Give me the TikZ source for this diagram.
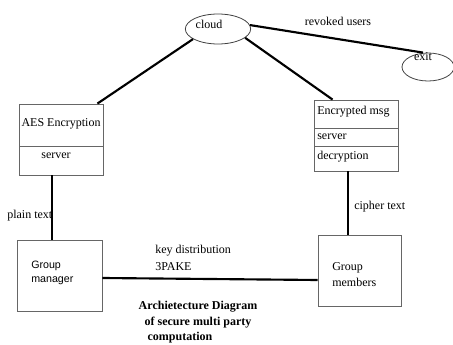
\documentclass[tikz,border=0pt]{standalone}
\usepackage{fontspec}
\setmainfont{Liberation Serif}
\newfontfamily\grpsans{Liberation Sans}
\usetikzlibrary{shapes.geometric}
\begin{document}
\begin{tikzpicture}[x=0.75pt,y=-0.75pt,
  txt/.style={inner sep=0pt,font=\fontsize{9}{11}\selectfont},
  box/.style={draw=black!60,line width=0.6pt,inner sep=0pt,minimum width=63pt,minimum height=53.25pt},
  oval/.style={ellipse,draw=black!75,line width=0.6pt,inner sep=0pt},
  link/.style={line width=1.6pt,black},
  sep/.style={draw=black!60,line width=0.6pt},
  titletxt/.style={inner sep=0pt,font=\fontsize{9}{11}\selectfont\bfseries}]
\useasboundingbox (0,0) rectangle (453,345);

% ovals
\node[oval,minimum width=49pt,minimum height=22.5pt] (cloud) at (218,29) {};
\node[txt] (cloudtxt) at (209,24.5) {cloud};
\node[oval,minimum width=39pt,minimum height=21pt] (exit) at (428,67) {};
\node[txt] (exittxt) at (423,57) {exit};

% server boxes
\node[box] (aes) at (61,139.5) {};
\draw[sep] (19,146) -- (103,146);
\node[txt] (aestxt) at (61,124) {AES Encryption};
\node[txt] (aessrv) at (56,156) {server};

\node[box] (enc) at (356,135.5) {};
\draw[sep] (314,128) -- (398,128);
\draw[sep] (314,146) -- (398,146);
\node[txt,anchor=west] (enctxt) at (317,112) {Encrypted msg};
\node[txt,anchor=west] (encsrv) at (317,137) {server};
\node[txt,anchor=west] (encdec) at (317,157) {decryption};

% group boxes
\node[box,minimum width=63.75pt] (mgr) at (59.5,275.5) {};
\node[inner sep=0pt,anchor=west,align=left,font=\grpsans\fontsize{8}{10.5}\selectfont] (mgrtxt) at (31,273) {Group\\manager};
\node[box,minimum width=62.25pt] (mem) at (359.5,270.5) {};
\node[inner sep=0pt,anchor=west,align=left,font=\fontsize{9}{12}\selectfont] (memtxt) at (332,275) {Group\\members};

% connectors
\draw[link] (cloud.202) -- ([xshift=-4.5pt]aes.north east);
\draw[link] (cloud.-18) -- ([xshift=14.25pt]enc.north west);
\draw[link] (cloud.7) -- ([xshift=-3.75pt]exit.north);
\draw[link] ([xshift=-6.75pt]aes.south) -- ([xshift=-6.75pt]aes.south |- mgr.north);
\draw[link] ([xshift=-6pt]enc.south) -- ([xshift=-6pt]enc.south |- mem.north);
\draw[link] ([yshift=-1.875pt]mgr.east) -- ([yshift=-7.125pt]mem.west);

% connector labels
\node[txt] (revtxt) at (338,21) {revoked users};
\node[txt,anchor=west] (plaintxt) at (7,216) {plain text};
\node[txt,anchor=west] (ciphertxt) at (354,207) {cipher text};
\node[txt,anchor=west] (keytxt) at (155,251) {key distribution};
\node[txt,anchor=west] (paketxt) at (155,267) {3PAKE};

% caption
\node[titletxt] (cap1) at (198,307) {Archietecture Diagram};
\node[titletxt] (cap2) at (198,323) {of secure multi party};
\node[titletxt] (cap3) at (180,338) {computation};
\end{tikzpicture}
\end{document}
